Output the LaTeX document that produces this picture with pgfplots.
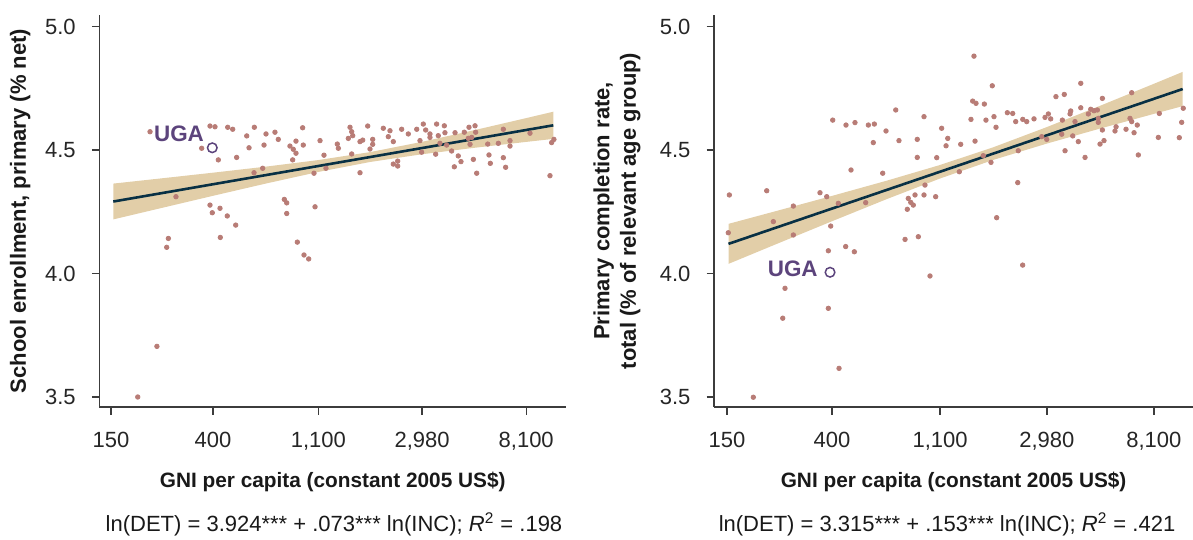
\documentclass[border=0pt]{standalone}
\usepackage{fontspec}
\setmainfont{Liberation Sans}
\usepackage{pgfplots}
\pgfplotsset{compat=1.18}
\definecolor{dotc}{RGB}{184,124,118}
\definecolor{fitc}{RGB}{8,48,68}
\definecolor{bandc}{RGB}{226,206,168}
\definecolor{ugac}{RGB}{92,68,124}
\definecolor{axc}{RGB}{60,60,60}
\pgfplotsset{
  panel/.style={
    scale only axis, height=196pt,
    axis lines=left, axis line style={-, axc, line width=0.8pt},
    tick align=outside, major tick length=3.85pt,
    every tick/.style={axc, line width=0.7pt},
    xtick={5.0106,5.9915,7.0031,7.9997,8.9996},
    xticklabels={150,400,{1,100},{2,980},{8,100}},
    ytick={3.5,4,4.5,5}, yticklabels={3.5,4.0,4.5,5.0},
    ymin=3.4595, ymax=5.0466,
    tick label style={font=\fontsize{11}{13}\selectfont, text=black!85},
    xticklabel style={yshift=-5pt},
    yticklabel style={xshift=-4.5pt},
    label style={font=\bfseries\fontsize{11}{13.2}\selectfont, text=black!90},
    xlabel style={at={(axis description cs:0.5,0)}, anchor=center, yshift=-37.5pt, font=\bfseries\fontsize{10.4}{12.5}\selectfont},
    xlabel={GNI per capita (constant 2005 US\$)},
  },
  dots/.style={only marks, mark=*, mark size=1.12pt, color=dotc, mark options={draw=none, fill=dotc}},
  fit/.style={fitc, line width=1.3pt},
  band/.style={fill=bandc, draw=none},
  ugamark/.style={only marks, mark=o, mark size=2.4pt, color=ugac, mark options={draw=ugac, line width=0.75pt}},
}
\begin{document}
\begin{tikzpicture}
\useasboundingbox (0,0) rectangle (596.5pt,270pt);
% ---------------- left panel ----------------
\begin{axis}[panel, at={(49.75pt,66.5pt)}, anchor=south west, width=233.25pt,
  xmin=4.9005, xmax=9.382,
  ylabel={School enrollment, primary (\% net)},
  ylabel style={at={(axis description cs:-0.17,0.5)}, anchor=center}]
\addplot[band] coordinates {(5.033,4.364) (5.5,4.3854) (6,4.4086) (6.5,4.4327) (7,4.4591) (7.5,4.4915) (8,4.5331) (8.5,4.5802) (9,4.6292) (9.26,4.655)
 (9.26,4.545) (9,4.5328) (8.5,4.5088) (8,4.4829) (7.5,4.4515) (7,4.4109) (6.5,4.3643) (6,4.3154) (5.5,4.2656) (5.033,4.219)} -- cycle;
\addplot[dots] coordinates {
(5.386,4.574) (5.962,4.597) (6.010,4.594) (6.132,4.592) (6.180,4.584) (6.388,4.592) (6.315,4.557) (6.337,4.509)
(5.882,4.507) (6.042,4.460) (6.218,4.470) (5.635,4.311) (5.962,4.277) (6.058,4.264) (5.984,4.246) (6.128,4.233)
(6.209,4.196) (5.562,4.142) (5.546,4.106) (6.061,4.146) (5.268,3.500) (5.452,3.705)
(6.500,4.565) (6.481,4.520) (6.586,4.572) (6.618,4.543) (6.852,4.590) (6.730,4.516) (6.762,4.503) (6.788,4.536)
(6.858,4.520) (6.788,4.487) (6.756,4.460) (7.019,4.538) (7.057,4.479) (7.076,4.426) (6.961,4.406) (7.185,4.524)
(7.195,4.507) (7.307,4.592) (7.323,4.574) (7.291,4.547) (7.333,4.558) (7.477,4.597) (7.403,4.534) (7.429,4.540)
(7.525,4.543) (7.525,4.523) (7.499,4.504) (7.323,4.484) (7.403,4.408) (7.627,4.588) (7.691,4.578) (7.675,4.554)
(7.803,4.584) (7.723,4.534) (7.867,4.565) (7.723,4.443) (7.765,4.455) (7.765,4.435) (6.468,4.426) (6.385,4.408)
(6.676,4.300) (6.699,4.286) (6.699,4.243) (6.971,4.270) (6.801,4.127) (6.865,4.075) (6.910,4.059)
(7.948,4.584) (8.011,4.605) (8.034,4.581) (8.075,4.565) (8.075,4.551) (7.979,4.538) (7.995,4.491) (8.139,4.605)
(8.213,4.598) (8.155,4.558) (8.219,4.570) (8.130,4.483) (8.171,4.527) (8.235,4.520) (8.283,4.496) (8.316,4.570)
(8.347,4.476) (8.373,4.453) (8.309,4.432) (8.405,4.572) (8.450,4.592) (8.508,4.598) (8.443,4.547) (8.476,4.551)
(8.514,4.572) (8.460,4.523) (8.492,4.462) (8.524,4.406) (8.630,4.524) (8.642,4.480) (8.655,4.446) (8.732,4.527)
(8.780,4.584) (8.780,4.469) (8.802,4.430) (8.844,4.538) (8.844,4.516) (9.036,4.568) (9.244,4.530) (9.266,4.543)
(9.228,4.396)};
\addplot[fit] coordinates {(5.033,4.2914) (9.26,4.600)};
\addplot[ugamark] coordinates {(5.984,4.509)};
\node[anchor=base east, inner sep=0pt, font=\bfseries\fontsize{11.2}{13}\selectfont, text=ugac, xshift=-4pt, yshift=3pt] at (axis cs:5.984,4.509) {UGA};
\end{axis}
\node[font=\fontsize{11}{13}\selectfont, text=black!90] at (167pt,7.8pt) {ln(DET) = 3.924*** + .073*** ln(INC); \textit{R}\textsuperscript{2} = .198};
% ---------------- right panel ----------------
\begin{axis}[panel, at={(357.1pt,66.5pt)}, anchor=south west, width=239.4pt,
  xmin=4.8914, xmax=9.366,
  ylabel={Primary completion rate,\\total (\% of relevant age group)},
  ylabel style={at={(axis description cs:-0.203,0.5)}, anchor=center, align=center}]
\addplot[band] coordinates {(5.025,4.2010) (5.5,4.2563) (6,4.3151) (6.5,4.3753) (7,4.4391) (7.5,4.5112) (8,4.5928) (8.5,4.6795) (9,4.7680) (9.27,4.8163)
 (9.27,4.6777) (9,4.6462) (8.5,4.5871) (8,4.5260) (7.5,4.4600) (7,4.3843) (6.5,4.3005) (6,4.2129) (5.5,4.1241) (5.025,4.0390)} -- cycle;
\addplot[dots] coordinates {
(5.999,4.621) (6.123,4.601) (6.207,4.611) (6.332,4.601) (6.388,4.605) (6.378,4.530) (6.170,4.419) (5.033,4.318)
(5.382,4.335) (5.880,4.327) (5.943,4.311) (5.631,4.273) (6.051,4.284) (6.307,4.287) (5.444,4.210) (5.023,4.165)
(5.631,4.156) (5.980,4.192)
(5.958,4.092) (6.120,4.109) (6.201,4.088) (6.675,4.138) (6.799,4.149) (6.908,3.990) (5.553,3.940) (5.532,3.819)
(5.958,3.859) (6.058,3.616) (5.257,3.499)
(7.319,4.880) (7.490,4.760) (7.307,4.698) (7.338,4.689) (7.416,4.686) (6.588,4.662) (6.852,4.635) (7.291,4.624)
(7.431,4.621) (7.506,4.635) (7.525,4.592) (7.631,4.651) (7.681,4.648) (7.709,4.615) (7.775,4.624) (7.812,4.615)
(6.497,4.577) (6.618,4.538) (6.789,4.543) (7.017,4.588) (7.074,4.547) (7.058,4.517) (7.195,4.523) (7.329,4.536)
(6.789,4.470) (6.971,4.469) (7.406,4.477) (7.478,4.450) (7.733,4.497) (6.466,4.406) (7.182,4.412) (6.861,4.358)
(7.728,4.368) (6.768,4.318) (6.852,4.318) (6.961,4.311) (6.705,4.304) (6.728,4.288) (6.752,4.277) (6.696,4.260)
(7.531,4.226) (7.774,4.034)
(8.317,4.770) (8.085,4.716) (8.163,4.725) (8.519,4.709) (8.793,4.732) (8.317,4.671) (8.223,4.658) (8.217,4.646)
(8.014,4.646) (7.983,4.632) (8.036,4.626) (7.880,4.626) (8.410,4.665) (8.441,4.659) (8.472,4.662) (8.388,4.646)
(8.145,4.621) (8.263,4.615) (8.481,4.628) (8.481,4.612) (9.051,4.648) (9.275,4.669) (9.260,4.612) (8.777,4.628)
(8.793,4.615) (8.845,4.601) (8.647,4.594) (8.740,4.584) (8.637,4.577) (8.815,4.570) (8.519,4.581) (8.139,4.564)
(8.242,4.557) (7.952,4.554) (7.999,4.543) (8.294,4.534) (8.534,4.538) (8.497,4.524) (9.042,4.551) (9.238,4.550)
(8.170,4.497) (8.357,4.470) (8.855,4.480)};
\addplot[fit] coordinates {(5.025,4.120) (9.27,4.747)};
\addplot[ugamark] coordinates {(5.974,4.005)};
\node[anchor=base east, inner sep=0pt, font=\bfseries\fontsize{11.2}{13}\selectfont, text=ugac, xshift=-6pt, yshift=-2pt] at (axis cs:5.974,4.005) {UGA};
\end{axis}
\node[font=\fontsize{11}{13}\selectfont, text=black!90] at (473.5pt,7.8pt) {ln(DET) = 3.315*** + .153*** ln(INC); \textit{R}\textsuperscript{2} = .421};
\end{tikzpicture}
\end{document}
